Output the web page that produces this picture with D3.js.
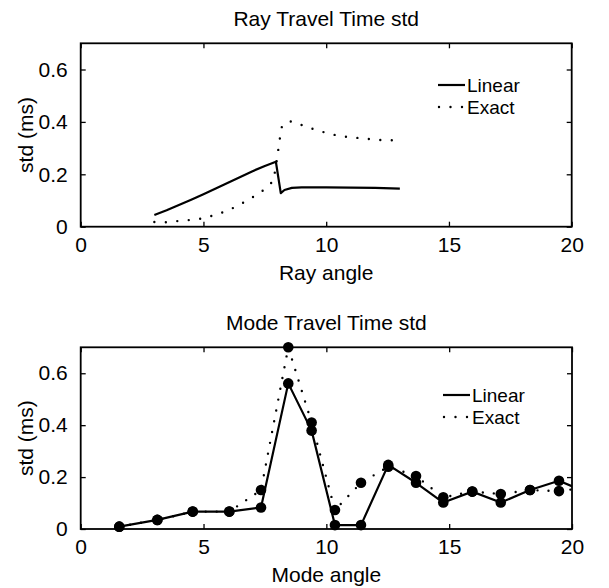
<!DOCTYPE html>
<html>
<head>
<meta charset="utf-8">
<script src="https://cdn.jsdelivr.net/npm/d3@7"></script>
<style>
    body { margin: 0; background: #fff; }
    svg text { font-family: "Liberation Sans", Arial, Helvetica, sans-serif; fill: #000; }
</style>
</head>
<body>
<svg id="chart" width="609" height="588"></svg>
<script>
/*global d3*/
"use strict";

// top panel, ray travel time std (ms) against ray angle
var rayLinearX = [3, 3.5, 4, 4.5, 5, 5.5, 6, 6.5, 7, 7.5, 7.95, 8.15, 8.3, 8.6, 9, 10, 11, 12, 13],
    rayLinearY = [0.045, 0.063, 0.083, 0.103, 0.124, 0.146, 0.168, 0.19, 0.212, 0.232, 0.248,
        0.128, 0.14, 0.148, 0.15, 0.15, 0.149, 0.148, 0.145],
    rayExactX = [3, 3.5, 4, 4.5, 5, 5.5, 6, 6.5, 7, 7.5, 7.85, 8.0, 8.1, 8.2, 8.4, 8.6, 9,
        9.5, 10, 10.5, 11, 11.5, 12, 12.5, 13],
    rayExactY = [0.018, 0.017, 0.022, 0.026, 0.032, 0.046, 0.062, 0.085, 0.112, 0.143, 0.175,
        0.26, 0.33, 0.385, 0.4, 0.402, 0.388, 0.372, 0.358, 0.347, 0.341, 0.337, 0.332, 0.33, 0.33],

    // bottom panel, one value per mode
    modeAngle = [1.57, 3.12, 4.56, 6.05, 7.34, 8.45, 9.4, 10.35, 11.41, 12.52, 13.65, 14.76,
        15.94, 17.1, 18.29, 19.47, 20.6],
    modeLinear = [0.009, 0.035, 0.067, 0.067, 0.083, 0.561, 0.379, 0.015, 0.015, 0.247, 0.178,
        0.102, 0.144, 0.102, 0.15, 0.186, 0.14],
    modeExact = [0.009, 0.035, 0.067, 0.067, 0.15, 0.70, 0.41, 0.073, 0.178, 0.24, 0.204,
        0.122, 0.144, 0.135, 0.15, 0.146, 0.16],

    xTicks = [0, 5, 10, 15, 20],
    yTicks = [0, 0.2, 0.4, 0.6],
    legendLabels = ['Linear', 'Exact'],

    svg = d3.select('#chart'),
    fontSize = 21,
    legendFont = 19,

    zip = function (xs, ys) {
        return xs.map(function (x, i) { return [x, ys[i]]; });
    },

    /**
     * Draws one boxed matlab style panel with inward ticks on all sides.
     */
    panel = function (opts) {
        var g = svg.append('g'),
            x = d3.scaleLinear().domain([0, 20]).range([opts.left, opts.right]),
            y = d3.scaleLinear().domain([0, 0.7]).range([opts.bottom, opts.top]),
            fmt = function (d) { return d === 0 ? '0' : d3.format('.1f')(d); },
            line = d3.line().x(function (d) { return x(d[0]); }).y(function (d) { return y(d[1]); }),
            clipId = 'clip' + opts.id,
            leg;

        g.append('clipPath').attr('id', clipId)
            .append('rect')
            .attr('x', opts.left).attr('y', opts.top)
            .attr('width', opts.right - opts.left).attr('height', opts.bottom - opts.top);

        // axes, ticks pointing inwards
        g.append('g').attr('transform', 'translate(0,' + opts.bottom + ')')
            .call(d3.axisBottom(x).tickValues(xTicks).tickSizeInner(-5).tickSizeOuter(0).tickPadding(10));
        g.append('g').attr('transform', 'translate(0,' + opts.top + ')')
            .call(d3.axisTop(x).tickValues(xTicks).tickSizeInner(-5).tickSizeOuter(0).tickFormat(''));
        g.append('g').attr('transform', 'translate(' + opts.left + ',0)')
            .call(d3.axisLeft(y).tickValues(yTicks).tickSizeInner(-5).tickSizeOuter(0).tickPadding(13).tickFormat(fmt));
        g.append('g').attr('transform', 'translate(' + opts.right + ',0)')
            .call(d3.axisRight(y).tickValues(yTicks).tickSizeInner(-5).tickSizeOuter(0).tickFormat(''));

        g.selectAll('.domain').remove();
        g.selectAll('.tick line').attr('stroke', '#000').attr('stroke-width', 1.3);
        g.selectAll('.tick text').attr('font-size', fontSize).attr('font-family', null);

        g.append('rect')
            .attr('x', opts.left).attr('y', opts.top)
            .attr('width', opts.right - opts.left).attr('height', opts.bottom - opts.top)
            .attr('fill', 'none').attr('stroke', '#000').attr('stroke-width', 1.8);

        g.append('text').attr('x', (opts.left + opts.right) / 2).attr('y', opts.top - 17)
            .attr('text-anchor', 'middle').attr('font-size', fontSize).text(opts.title);
        g.append('text').attr('x', (opts.left + opts.right) / 2).attr('y', opts.bottom + 53)
            .attr('text-anchor', 'middle').attr('font-size', fontSize).text(opts.xLabel);
        g.append('text')
            .attr('transform', 'translate(33,' + ((opts.top + opts.bottom) / 2) + ') rotate(-90)')
            .attr('text-anchor', 'middle').attr('font-size', fontSize).text('std (ms)');

        // exact first so the solid line sits on top
        g.append('path').datum(opts.exact)
            .attr('clip-path', 'url(#' + clipId + ')')
            .attr('d', line).attr('fill', 'none').attr('stroke', '#000')
            .attr('stroke-width', 2.4).attr('stroke-linecap', 'round')
            .attr('stroke-dasharray', opts.dots);
        g.append('path').datum(opts.linear)
            .attr('clip-path', 'url(#' + clipId + ')')
            .attr('d', line).attr('fill', 'none').attr('stroke', '#000')
            .attr('stroke-width', 2.2).attr('stroke-linejoin', 'round');

        if (opts.markers) {
            g.selectAll('circle.m')
                .data(opts.linear.concat(opts.exact).filter(function (d) { return d[0] <= 20; }))
                .enter().append('circle').classed('m', true)
                .attr('cx', function (d) { return x(d[0]); })
                .attr('cy', function (d) { return y(d[1]); })
                .attr('r', 5.3).attr('fill', '#000');
        }

        // legend
        leg = g.append('g').attr('transform', 'translate(' + opts.legX + ',' + opts.legY + ')');
        leg.append('line').attr('x1', 0).attr('x2', 27).attr('y1', 0).attr('y2', 0)
            .attr('stroke', '#000').attr('stroke-width', 2.2);
        leg.append('line').attr('x1', 1).attr('x2', 27).attr('y1', 22).attr('y2', 22)
            .attr('stroke', '#000').attr('stroke-width', 2.4).attr('stroke-linecap', 'round')
            .attr('stroke-dasharray', '0 11.5');
        leg.selectAll('text').data(legendLabels).enter().append('text')
            .attr('x', 29).attr('y', function (d, i) { return i * 22 + 7; })
            .attr('font-size', legendFont).text(function (d) { return d; });
    };

panel({
    id: 'ray',
    left: 80.7, right: 571.7, top: 43.3, bottom: 226.7,
    title: 'Ray Travel Time std',
    xLabel: 'Ray angle',
    linear: zip(rayLinearX, rayLinearY),
    exact: zip(rayExactX, rayExactY),
    dots: '0 11.5',
    markers: false,
    legX: 438, legY: 85
});

panel({
    id: 'mode',
    left: 80.7, right: 572, top: 347.3, bottom: 529,
    title: 'Mode Travel Time std',
    xLabel: 'Mode angle',
    linear: zip(modeAngle, modeLinear),
    exact: zip(modeAngle, modeExact),
    dots: '0 11',
    markers: true,
    legX: 443, legY: 395
});
</script>
</body>
</html>
